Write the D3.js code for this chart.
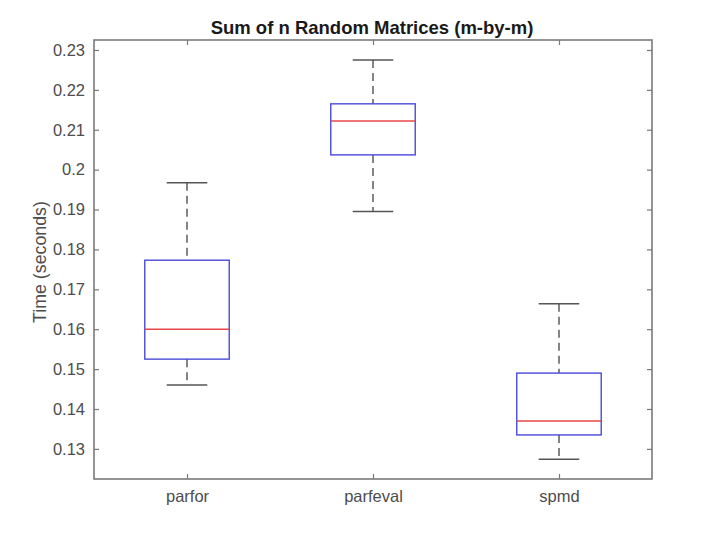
<!doctype html>
<html>
<head>
<title>Sum of n Random Matrices</title>
<style>
body { margin: 0; background: #fff; }
svg { display: block; font-family: "Liberation Sans", Arial, sans-serif; }
</style>
</head>
<body>
<svg width="720" height="539" id="chart"></svg>
<script src="https://d3js.org/d3.v7.min.js"></script>
<script>
var groups = ["parfor", "parfeval", "spmd"];
var lowerWhisker = [0.1460, 0.1895, 0.1274];
var q1 = [0.1525, 0.2037, 0.1335];
var median = [0.1600, 0.2122, 0.1370];
var q3 = [0.1773, 0.2165, 0.1490];
var upperWhisker = [0.1967, 0.2275, 0.1664];
var yTicks = [0.13, 0.14, 0.15, 0.16, 0.17, 0.18, 0.19, 0.2, 0.21, 0.22, 0.23];

var svg = d3.select("#chart");
var plotL = 94, plotR = 652, plotT = 40, plotB = 479;

var x = d3.scaleLinear().domain([0.5, 3.5]).range([plotL, plotR]);
var y = d3.scaleLinear().domain([0.12245, 0.2325]).range([plotB, plotT]);

var boxes = groups.map(function(g, i) {
  return {name: g, pos: i + 1, lo: lowerWhisker[i], q1: q1[i], med: median[i], q3: q3[i], hi: upperWhisker[i]};
});

var axisColor = "#7a7a7a";

// axes with inward ticks
svg.append("g")
  .attr("transform", "translate(" + plotL + ",0)")
  .call(d3.axisLeft(y).tickValues(yTicks).tickSizeInner(-5).tickSizeOuter(0).tickPadding(9)
    .tickFormat(function(d) { return d3.format("~g")(d); }))
  .call(function(g) {
    g.select(".domain").remove();
    g.selectAll("line").attr("stroke", axisColor).attr("stroke-width", 1.2);
    g.selectAll("text").attr("fill", "#4d4d4d").attr("font-size", 16.5);
  });

svg.append("g")
  .attr("transform", "translate(" + plotR + ",0)")
  .call(d3.axisRight(y).tickValues(yTicks).tickSizeInner(-5).tickSizeOuter(0).tickFormat(""))
  .call(function(g) {
    g.select(".domain").remove();
    g.selectAll("line").attr("stroke", axisColor).attr("stroke-width", 1.2);
  });

svg.append("g")
  .attr("transform", "translate(0," + plotB + ")")
  .call(d3.axisBottom(x).tickValues([1, 2, 3]).tickSizeInner(-5).tickSizeOuter(0).tickPadding(11)
    .tickFormat(function(d) { return groups[d - 1]; }))
  .call(function(g) {
    g.select(".domain").remove();
    g.selectAll("line").attr("stroke", axisColor).attr("stroke-width", 1.2);
    g.selectAll("text").attr("fill", "#4d4d4d").attr("font-size", 16.5);
  });

svg.append("g")
  .attr("transform", "translate(0," + plotT + ")")
  .call(d3.axisTop(x).tickValues([1, 2, 3]).tickSizeInner(-5).tickSizeOuter(0).tickFormat(""))
  .call(function(g) {
    g.select(".domain").remove();
    g.selectAll("line").attr("stroke", axisColor).attr("stroke-width", 1.2);
  });

// frame
svg.append("rect")
  .attr("x", plotL).attr("y", plotT)
  .attr("width", plotR - plotL).attr("height", plotB - plotT)
  .attr("fill", "none").attr("stroke", axisColor).attr("stroke-width", 1.6);

var boxHalf = 0.227, capHalf = 0.109;

var b = svg.append("g").selectAll("g").data(boxes).enter().append("g");

// whiskers
b.append("line")
  .attr("x1", function(d) { return x(d.pos); }).attr("x2", function(d) { return x(d.pos); })
  .attr("y1", function(d) { return y(d.hi); }).attr("y2", function(d) { return y(d.q3); })
  .attr("stroke", "#666").attr("stroke-width", 1.6).attr("stroke-dasharray", "8,5");
b.append("line")
  .attr("x1", function(d) { return x(d.pos); }).attr("x2", function(d) { return x(d.pos); })
  .attr("y1", function(d) { return y(d.q1); }).attr("y2", function(d) { return y(d.lo); })
  .attr("stroke", "#666").attr("stroke-width", 1.6).attr("stroke-dasharray", "8,5");

// caps
["hi", "lo"].forEach(function(k) {
  b.append("line")
    .attr("x1", function(d) { return x(d.pos - capHalf); }).attr("x2", function(d) { return x(d.pos + capHalf); })
    .attr("y1", function(d) { return y(d[k]); }).attr("y2", function(d) { return y(d[k]); })
    .attr("stroke", "#555").attr("stroke-width", 1.4);
});

// boxes
b.append("rect")
  .attr("x", function(d) { return x(d.pos - boxHalf); })
  .attr("width", function(d) { return x(d.pos + boxHalf) - x(d.pos - boxHalf); })
  .attr("y", function(d) { return y(d.q3); })
  .attr("height", function(d) { return y(d.q1) - y(d.q3); })
  .attr("fill", "none").attr("stroke", "#4a4ad8").attr("stroke-width", 1.4);

// medians
b.append("line")
  .attr("x1", function(d) { return x(d.pos - boxHalf); }).attr("x2", function(d) { return x(d.pos + boxHalf); })
  .attr("y1", function(d) { return y(d.med); }).attr("y2", function(d) { return y(d.med); })
  .attr("stroke", "#e8474a").attr("stroke-width", 1.4);

// title and label
svg.append("text")
  .attr("x", 372).attr("y", 34)
  .attr("text-anchor", "middle")
  .attr("font-size", 18.5).attr("font-weight", "bold").attr("fill", "#1a1a1a")
  .text("Sum of n Random Matrices (m-by-m)");

svg.append("text")
  .attr("transform", "translate(46,262) rotate(-90)")
  .attr("text-anchor", "middle")
  .attr("font-size", 17.8).attr("fill", "#4d4d4d")
  .text("Time (seconds)");
</script>
</body>
</html>
